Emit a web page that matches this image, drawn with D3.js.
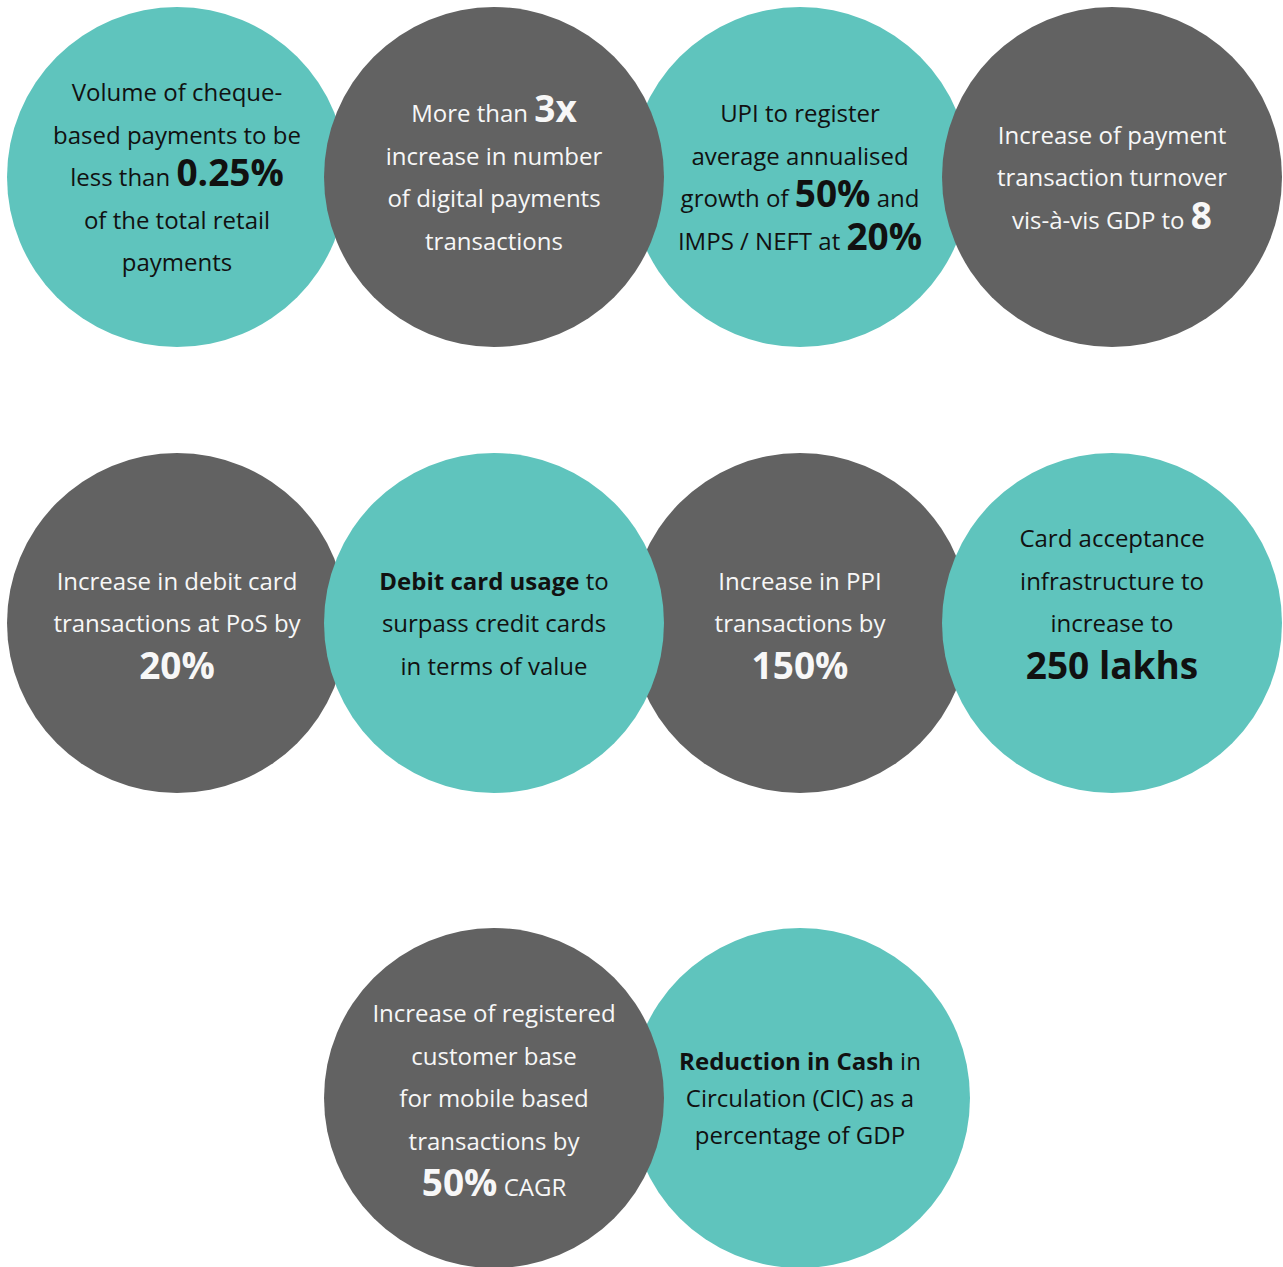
<!DOCTYPE html>
<html>
<head>
<meta charset="utf-8">
<script src="https://cdn.jsdelivr.net/npm/d3@7"></script>
<style>
  body { margin: 0; background: #fff; }
  svg { display: block; }
</style>
</head>
<body>
<div id="chart"></div>
<script>
// {..} = big bold figure, [..] = bold at normal size
var statements = [
    ["Volume of cheque-", "based payments to be", "less than {0.25%}", "of the total retail", "payments"],
    ["More than {3x}", "increase in number", "of digital payments", "transactions"],
    ["UPI to register", "average annualised", "growth of {50%} and", "IMPS / NEFT at {20%}"],
    ["Increase of payment", "transaction turnover", "vis-à-vis GDP to {8}"],
    ["Increase in debit card", "transactions at PoS by", "{20%}"],
    ["[Debit card usage] to", "surpass credit cards", "in terms of value"],
    ["Increase in PPI", "transactions by", "{150%}"],
    ["Card acceptance", "infrastructure to", "increase to", "{250 lakhs}", ""],
    ["Increase of registered", "customer base", "for mobile based", "transactions by", "{50%} CAGR"],
    ["[Reduction in Cash] in", "Circulation (CIC) as a", "percentage of GDP"]
];
var rows   = [0, 0, 0, 0, 1, 1, 1, 1, 2, 2];
var cols   = [0, 1, 2, 3, 0, 1, 2, 3, 1, 2];
var tones  = ["teal", "gray", "teal", "gray", "gray", "teal", "gray", "teal", "gray", "teal"];
var layers = [0, 1, 0, 1, 0, 1, 0, 1, 1, 0];

var width = 1283, height = 1267;
var radius = 170;
var fill = { teal: "#5fc4bd", gray: "#626262" };
var ink = { teal: "#111111", gray: "#f7f7f7" };

var x = d3.scaleOrdinal().domain([0, 1, 2, 3]).range([177, 494, 800, 1112]);
var y = d3.scaleOrdinal().domain([0, 1, 2]).range([177, 623, 1098]);

var items = statements.map((lines, i) => ({
    lines: lines, row: rows[i], col: cols[i], tone: tones[i], layer: layers[i], idx: i
}));

var svg = d3.select("#chart").append("svg")
    .attr("width", width)
    .attr("height", height)
    .style("font-family", "'Open Sans', 'Noto Sans', sans-serif");

svg.append("g")
    .selectAll("circle")
    .data(items.slice().sort((a, b) => a.layer - b.layer))
    .join("circle")
    .attr("cx", d => x(d.col))
    .attr("cy", d => y(d.row))
    .attr("r", radius)
    .attr("fill", d => fill[d.tone]);

function segments(line) {
    var out = [], re = /\{([^}]*)\}|\[([^\]]*)\]|([^{\[]+)/g, m;
    while ((m = re.exec(line)) !== null) {
        if (m[1] !== undefined) out.push({ t: m[1], size: 37, bold: true, big: true });
        else if (m[2] !== undefined) out.push({ t: m[2], size: 24, bold: true });
        else out.push({ t: m[3], size: 24, bold: false });
    }
    return out;
}

var groups = svg.append("g")
    .attr("text-anchor", "middle")
    .selectAll("g")
    .data(items)
    .join("g")
    .attr("fill", d => ink[d.tone]);

groups.each(function(d) {
    var tight = d.idx === 9;
    var lh = tight ? 37 : 42.5;
    var n = d.lines.length;
    var top = y(d.row) + 9 - (n - 1) * lh / 2;
    var g = d3.select(this);
    d.lines.forEach((line, k) => {
        var segs = segments(line);
        // a line that opens with a big figure sits a little lower
        var lead = segs.length && segs[0].big ? 4 : 0;
        var text = g.append("text")
            .attr("x", x(d.col))
            .attr("y", top + k * lh + lead);
        segs.forEach(s => {
            text.append("tspan")
                .attr("font-size", s.size)
                .attr("font-weight", s.bold ? 700 : 400)
                .text(s.t);
        });
    });
});
</script>
</body>
</html>
